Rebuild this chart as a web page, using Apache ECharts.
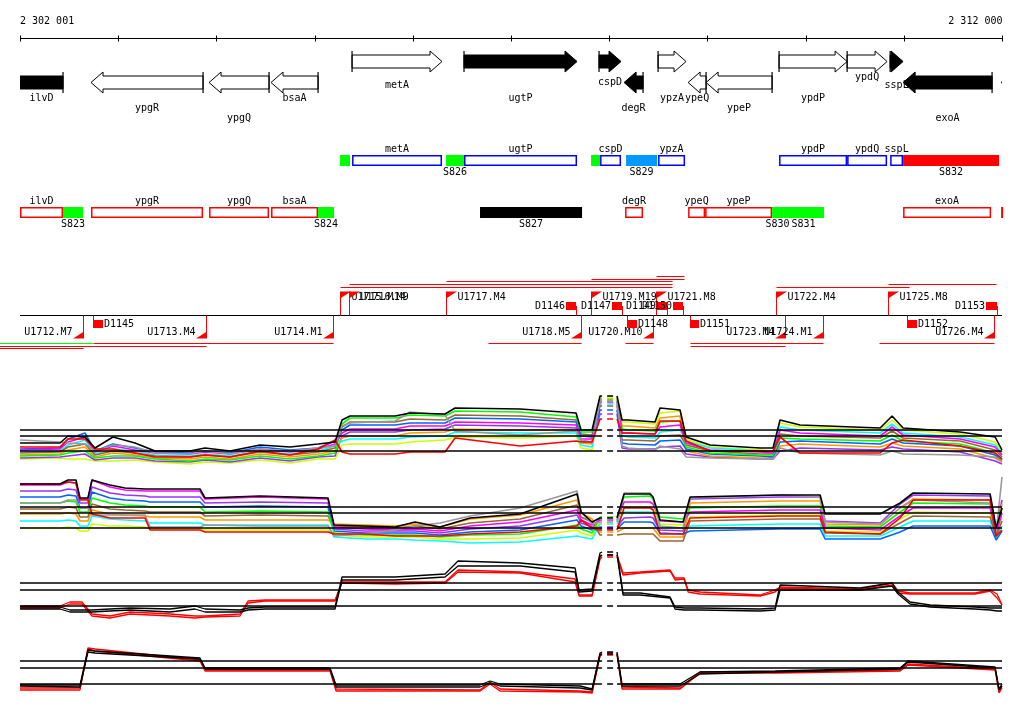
<!DOCTYPE html>
<html><head><meta charset="utf-8"><title>Genome browser</title>
<script src="https://cdn.jsdelivr.net/npm/echarts@6/dist/echarts.min.js"></script>
<style>html,body{margin:0;padding:0;background:#fff;}#chart{width:1024px;height:714px;}</style>
</head><body><div id="chart"></div>
<script>
// ---------------- DATA ----------------
const X_MIN = 2302001, X_MAX = 2312000;
const rulerTicks = [2302001,2303001,2304001,2305001,2306001,2307001,2308001,2309001,2310001,2311001,2312000];
const rulerLabels = ['2 302 001','2 312 000'];

// genes
const geneNames  = ['ilvD','ypgR','ypgQ','bsaA','metA','ugtP','cspD','degR','ypzA','ypeQ','ypeP','ypdP','ypdQ','sspL','exoA',''];
const geneStart  = [2300600,2302724,2303926,2304557,2305382,2306522,2307897,2308152,2308498,2308804,2308987,2309730,2310423,2310861,2310993,2311991];
const geneEnd    = [2302439,2303865,2304537,2305036,2306298,2307673,2308121,2308345,2308783,2308987,2309659,2310423,2310830,2310993,2311899,2313200];
const geneStrand = ['-','-','-','-','+','+','+','-','+','-','-','+','+','+','-','-'];
const geneEssential = [1,0,0,0,0,1,1,1,0,0,0,0,0,1,1,0];
const geneLabelLane = [3,4,5,3,2,3,1,4,3,3,4,3,0,2,5,0];

// segments, + strand row
const segPlusName  = ['','metA','S826','ugtP','','cspD','S829','ypzA','ypdP','ypdQ','sspL','S832'];
const segPlusStart = [2305260,2305382,2306339,2306522,2307816,2307907,2308172,2308498,2309730,2310423,2310861,2310993];
const segPlusEnd   = [2305361,2306298,2306522,2307673,2307907,2308121,2308488,2308773,2310423,2310830,2310993,2311970];
const segPlusClass = ['up','gene','up','gene','up','gene','shift','gene','gene','gene','gene','down'];
// segments, - strand row
const segMinusName  = ['ilvD','S823','ypgR','ypgQ','bsaA','S824','S827','degR','ypeQ','ypeP','S830','S831','exoA',''];
const segMinusStart = [2300600,2302439,2302724,2303926,2304557,2305036,2306685,2308162,2308804,2308977,2309659,2309771,2310993,2311991];
const segMinusEnd   = [2302439,2302643,2303865,2304537,2305036,2305199,2307724,2308345,2308977,2309659,2309771,2310188,2311889,2313200];
const segMinusClass = ['gene','up','gene','gene','gene','up','flat','gene','gene','gene','up','up','gene','gene'];

// transcription units
const tuName   = ['U1712.M7','U1713.M4','U1714.M1','U1715.M14','U1716.M9','U1717.M4','U1718.M5','U1719.M19','U1720.M10','U1721.M8','U1722.M4','U1723.M4','U1724.M1','U1725.M8','U1726.M4'];
const tuStrand = ['-','-','-','+','+','+','-','+','-','+','+','-','-','+','-'];
const tuStart  = [2301000,2300500,2302744,2305260,2305351,2306339,2306767,2307816,2308162,2308478,2309700,2308824,2308824,2310840,2310749];
const tuEnd    = [2302643,2303895,2305188,2308641,2308641,2308641,2307714,2308763,2308447,2308763,2311054,2309791,2310178,2311940,2311920];
const tuLane   = [2,1,0,0,1,2,0,3,0,4,0,1,0,1,0];
const tuAltStart  = [2300000,2307663,2307816];
const tuAltEnd    = [2302744,2308641,2308641];
const tuAltStrand = ['-','+','+'];
const tuAltLane   = [0,2,1];
// down-shift segments
const dName   = ['D1145','D1146','D1147','D1148','D1149','D1150','D1151','D1152','D1153'];
const dStrand = ['-','+','+','-','+','+','-','-','+'];
const dStart  = [2302744,2307561,2308029,2308182,2308488,2308651,2308824,2311034,2311838];
const dEnd    = [2302846,2307663,2308131,2308284,2308590,2308753,2308916,2311135,2311950];

// reference lines
const refX  = [2302001,2307928,2307948,2307979,2308040,2308060,2308080,2312000];
const refOn = [1,1,0,1,1,0,1,1];

// ---- panel 1 ----
const p1Pos = [2302001,2302408,2302490,2302663,2302765,2302948,2303172,2303376,2303732,2303885,2304140,2304445,2304751,2305036,2305209,2305280,2305361,2305820,2305972,2306329,2306431,2307093,2307663,2307714,2307826,2307907,2307928,2307948,2307979,2308040,2308060,2308080,2308131,2308192,2308467,2308518,2308722,2308783,2309027,2309537,2309669,2309740,2309944,2310759,2310881,2310993,2311573,2311930,2312000];
const p1Refs = [0,15,21];
const p1Black = [8,8,15,14,3,14,8,0,0,3,0,6,4,7,9,31,35,35,38,37,43,42,38,21,21,55,55,null,55,55,null,55,31,31,29,43,41,14,6,3,3,31,26,23,35,23,19,14,1];
const p1Gray  = [11,9,8,7,0,6,4,-2,-3,0,-3,2,0,3,5,25,28,30,39,36,20,16,20,12,8,50,50,null,50,50,null,50,5,3,1,5,2,-6,-7,-8,-8,3,-2,-4,0,-3,-4,-6,-10];
const p1Red   = [4,4,12,12,2,2,-2,-6,-6,-4,-6,0,-4,2,11,-1,-3,-3,-1,-1,13,5,10,9,9,32,32,null,32,32,null,32,18,18,17,30,30,10,0,0,0,14,-2,-2,8,11,5,-2,-8];
const p1Magenta = [1,2,9,14,-1,5,1,-2,-3,-1,-3,2,-1,2,7, 18,22,22,25,25,29,28,26,12,12, 49,49,null,49,49,null,49,18,18,17,24,26, 8,1,-1,-2,21,18,15,24,16,12,4,-4];
const p1Lime    = [-5,-4,-2,0,-7,-5,-5,-8,-10,-8,-9,-5,-8,-5,-2, 27,33,33,36,35,40,39,34,19,19, 51,51,null,51,51,null,51,22,21,20,29,30, 4,-2,-4,-4,13,12,10,16,10,7,-2,-8];
const p1Cyan    = [-1,0,6,11,-3,2,0,-4,-5,-3,-5,0,-3,0,5, 10,12,12,14,15,19,18,18,6,4, 47,47,null,47,47,null,47,15,14,13,19,21, 10,3,0,-1,24,21,18,27,18,14,6,-3];
const p1Blue    = [2,3,12,18,0,7,3,-1,-2,0,-2,4,1,3,10, 21,26,26,28,28,33,32,29,15,14, 41,41,null,41,41,null,41,8,7,6,10,11, 2,-3,-5,-6,9,10,7,12,8,5,-4,-9];
const p1Orange  = [-4,-3,1,4,-6,-2,-4,-7,-8,-6,-8,-3,-6,-3,0, 13,15,15,18,19,22,21,21,8,7, 52,52,null,52,52,null,52,25,25,23,33,35, 0,-5,-7,-7,5,7,4,8,5,2,-7,-11];
const p1Yellow  = [-8,-7,-8,-8,-10,-10,-9,-11,-13,-11,-12,-9,-12,-8,-8, 6,7,7,9,11,14,13,15,3,1, 54,54,null,54,54,null,54,29,29,27,38,40, 12,4,1,0,28,24,21,31,21,17,9,-1];
const p1Brown   = [-2,-1,4,7,-4,0,-2,-5,-6,-4,-6,-1,-4,-1,3, 24,29,29,32,31,36,35,31,17,16, 45,45,null,45,45,null,45,11,11,10,15,16, 6,0,-3,-3,17,15,13,20,13,10,1,-6];
const p1Purple  = [-7,-6,-5,-3,-9,-7,-7,-10,-11,-9,-11,-7,-10,-6,-5, 15,19,19,21,22,26,25,23,10,9, 37,37,null,37,37,null,37,3,2,2,4,5, -3,-6,-8,-8,0,3,1,4,2,-1,-10,-13];

// ---- panel 2 ----
const p2Pos = [2302001,2302408,2302490,2302571,2302612,2302693,2302734,2302917,2303070,2303274,2303325,2303834,2303885,2304445,2305137,2305199,2305514,2305820,2306023,2306278,2306583,2307093,2307673,2307714,2307826,2307907,2307928,2307948,2307979,2308040,2308060,2308080,2308152,2308416,2308447,2308518,2308753,2308824,2309740,2310148,2310199,2310759,2310962,2311095,2311879,2311940,2312000];
const p2Refs = [0,15,21];
const p2Black = [44,44,48,48,30,30,48,43,40,39,39,39,30,32,30,3,2,1,6,1,10,14,34,16,6,10,10,null,10,10,null,10,34,34,31,8,6,31,33,33,14,14,25,35,34,0,20];
const p2Gray  = [25,25,28,28,20,20,13,13,13,13,1,1,3,2,2,-8,-6,-2,2,5,12,20,37,16,4,6,6,null,6,6,null,6,35,35,30,2,0,30,33,31,6,4,20,28,25,-5,51];
const p2Red   = [44,44,46,45,28,28,14,10,10,10,-2,-2,-4,-4,-4,-6,-6,-8,-8,-8,-6,-4,2,8,0,-2,-2,null,-2,-2,null,-2,20,20,18,-6,-6,10,12,12,-4,-6,10,28,28,-8,-2];
const p2Magenta = [43,43,46,45,29,29,48,41,38,37,37,37,29,31,29, 1,-1,-2,-1,-3,2,6,18,8,3, 8,8,null,8,8,null,8,26,26,24,7,6, 16,18,18,0,-2,12,20,20,-6,15];
const p2Lime    = [25,25,27,26,16,16,30,25,23,22,21,21,16,17,16, -5,-7,-7,-7,-9,-7,-6,3,-1,-5, 11,11,null,11,11,null,11,31,32,29,11,9, 20,22,22,2,1,16,25,24,-5,20];
const p2Cyan    = [7,7,8,7,2,2,12,9,8,7,5,5,3,3,3, -9,-11,-11,-12,-13,-15,-14,-8,-9,-11, 4,4,null,4,4,null,4,16,16,15,1,0, 2,4,4,-8,-8,1,7,7,-10,2];
const p2Blue    = [31,31,33,32,20,20,36,30,28,27,26,26,21,22,21, -3,-5,-5,-5,-7,-4,-2,8,2,-2, -1,-1,null,-1,-1,null,-1,6,6,5,-5,-6, -3,-1,-1,-11,-11,-4,2,2,-12,-3];
const p2Orange  = [14,14,15,14,7,7,18,14,13,12,11,11,8,8,8, 4,3,2,4,1,9,13,28,15,9, -4,-4,null,-4,-4,null,-4,0,0,0,-9,-9, 25,27,27,4,3,20,29,28,-4,24];
const p2Yellow  = [0,0,1,0,-3,-3,4,2,2,1,-1,-1,-2,-2,-2, -7,-9,-9,-9,-11,-11,-10,-2,-5,-8, 6,6,null,6,6,null,6,21,21,19,4,3, 11,13,13,-3,-4,9,16,15,-8,11];
const p2Brown   = [19,19,21,20,11,11,24,19,18,17,16,16,12,13,12, 2,1,0,2,-1,5,9,23,11,6, -7,-7,null,-7,-7,null,-7,-6,-6,-6,-13,-13, 7,9,9,-5,-6,5,12,11,-9,7];
const p2Purple  = [37,37,39,38,25,25,41,35,33,32,31,31,25,26,25, -1,-3,-3,-3,-5,-1,2,13,5,1, 1,1,null,1,1,null,1,10,11,10,-2,-3, 29,31,31,7,5,24,33,32,-2,28];

// ---- panel 3 ----
const p3Pos = [2302001,2302408,2302510,2302632,2302734,2302917,2303121,2303528,2303783,2303885,2304241,2304323,2304496,2305209,2305280,2305820,2306329,2306461,2307093,2307653,2307694,2307826,2307907,2307928,2307948,2307979,2308040,2308060,2308080,2308141,2308315,2308620,2308671,2308763,2308804,2308925,2309537,2309689,2309740,2310555,2310881,2310942,2311064,2311268,2311726,2311879,2311950,2312000];
const p3Refs = [0,16,23];
const p3BlackA = [-1,-1,-4,-4,-4,-3,-2,-3,0,-3,-4,-2,-1,-1,29,29,32,45,43,38,16,17,53,54,null,54,54,null,54,13,13,9,-1,-2,-2,-2,-3,-2,21,18,23,14,4,1,-1,-2,-2,-2];
const p3BlackB = [-3,-3,-6,-6,-6,-5,-4,-6,-3,-6,-6,-4,-3,-3,26,26,29,40,40,34,14,15,50,51,null,51,51,null,51,11,11,8,-3,-4,-4,-4,-5,-4,16,16,20,12,2,-1,-3,-4,-5,-5];
const p3RedA   = [0,0,4,4,-8,-10,-6,-8,-10,-10,-8,5,6,6,24,24,24,36,34,27,11,11,49,51,null,51,51,null,51,33,34,36,28,28,16,14,11,16,19,17,23,15,13,13,13,16,12,1];
const p3RedB   = [-2,-2,2,2,-10,-12,-8,-10,-12,-11,-10,3,5,5,23,22,23,34,33,24,10,10,47,49,null,49,49,null,49,31,33,35,26,27,14,12,10,14,18,16,21,13,12,12,12,15,8,1];

// ---- panel 4 ----
const p4Pos = [2302001,2302612,2302693,2302765,2303834,2303885,2305158,2305219,2306685,2306787,2306889,2307704,2307826,2307907,2307928,2307948,2307979,2308040,2308060,2308080,2308131,2308722,2308925,2309689,2310962,2311044,2311930,2311970,2312000];
const p4Refs = [0,16,23];
const p4BlackA = [-1,-1,34,33,26,16,16,-1,-1,3,0,-2,-5,31,32,null,32,32,null,32,0,0,12,13,16,23,17,-5,0];
const p4BlackB = [-2,-3,32,31,25,15,15,-3,-3,1,-2,-4,-6,29,30,null,30,30,null,30,-2,-2,10,12,15,22,16,-6,-2];
const p4RedA   = [-4,-4,36,35,24,14,14,-5,-6,2,-5,-7,-8,30,31,null,31,31,null,31,-3,-4,12,12,14,20,15,-8,-2];
const p4RedB   = [-6,-6,35,33,23,13,13,-7,-7,0,-7,-8,-9,28,29,null,29,29,null,29,-5,-5,11,11,13,19,14,-9,-4];

// ---------------- RENDERING ----------------
const FONT = '10px "DejaVu Sans Mono", "Liberation Mono", monospace';
const CLASS_COLOR = {up:'#00ff00', shift:'#0099ff', down:'#ff0000', flat:'#000000'};
const chart = echarts.init(document.getElementById('chart'), null, {renderer:'canvas'});

function xc(api, v){ return api.coord([v, 0])[0]; }
function txt(text, x, y, align, color){
  return {type:'text', style:{text:text, x:x, y:y, align:align||'center', verticalAlign:'middle', font:FONT, fill:color||'#000'}};
}

function renderRuler(params, api){
  const i = params.dataIndex;
  const x = Math.round(xc(api, rulerTicks[i])) + 0.5;
  const ch = [{type:'line', shape:{x1:x, y1:35.5, x2:x, y2:41.5}, style:{stroke:'#000', lineWidth:1}}];
  if (i === 0){
    const a = xc(api, X_MIN), b = xc(api, X_MAX);
    ch.push({type:'line', shape:{x1:a, y1:38.5, x2:b, y2:38.5}, style:{stroke:'#000', lineWidth:1}});
    ch.push(txt(rulerLabels[0], a, 21, 'left'));
  }
  if (i === rulerTicks.length - 1) ch.push(txt(rulerLabels[1], x, 21, 'right'));
  return {type:'group', children:ch};
}

const LABEL_LANE_Y = [77, 82, 85.5, 98.5, 108, 118];
function renderGene(params, api){
  const i = params.dataIndex;
  const x0 = xc(api, geneStart[i]), x1 = xc(api, geneEnd[i]);
  const plus = geneStrand[i] === '+';
  const yc = plus ? 61.5 : 82.5, bh = 6.5, hh = 10.5, head = 12;
  let pts, barX;
  if (plus){ const xh = Math.max(x0, x1 - head); pts = [[x0,yc-bh],[xh,yc-bh],[xh,yc-hh],[x1,yc],[xh,yc+hh],[xh,yc+bh],[x0,yc+bh]]; barX = x0; }
  else { const xh = Math.min(x1, x0 + head); pts = [[x1,yc-bh],[xh,yc-bh],[xh,yc-hh],[x0,yc],[xh,yc+hh],[xh,yc+bh],[x1,yc+bh]]; barX = x1; }
  const filled = geneEssential[i] === 1;
  const ch = [
    {type:'polygon', shape:{points:pts}, style:{fill: filled ? '#000' : '#fff', stroke:'#000', lineWidth:1}},
    {type:'line', shape:{x1:barX, y1:yc-hh, x2:barX, y2:yc+hh}, style:{stroke:'#000', lineWidth:1.2}}
  ];
  if (geneNames[i]){
    const a = Math.max(x0, xc(api, X_MIN)), b = Math.min(x1, xc(api, X_MAX));
    ch.push(txt(geneNames[i], (a+b)/2, LABEL_LANE_Y[geneLabelLane[i]]));
  }
  return {type:'group', children:ch};
}

function makeSegRenderer(names, starts, ends, classes, yTop, geneColor){
  return function(params, api){
    const i = params.dataIndex;
    const lo = xc(api, X_MIN), hi = xc(api, X_MAX);
    const x0 = Math.max(lo, xc(api, starts[i])), x1 = Math.min(hi, xc(api, ends[i]));
    const ch = [];
    const cx = (x0 + x1) / 2;
    if (classes[i] === 'gene'){
      ch.push({type:'rect', shape:{x:x0+0.75, y:yTop+0.75, width:Math.max(0.5, x1-x0-1.5), height:9.5}, style:{fill:'#fff', stroke:geneColor, lineWidth:1.5}});
      if (names[i]) ch.push(txt(names[i], cx, yTop - 6));
    } else {
      ch.push({type:'rect', shape:{x:x0, y:yTop, width:x1-x0, height:11}, style:{fill:CLASS_COLOR[classes[i]]}});
      if (names[i]) ch.push(txt(names[i], cx, yTop + 17.5));
    }
    return {type:'group', children:ch};
  };
}

const LANE_UP = [287.5, 284.5, 281.5, 279.5, 276.5];
const LANE_DOWN = [343.5, 346.5, 348.5];
const AXIS_Y = 315.5;
function renderTU(params, api){
  const i = params.dataIndex;
  const xs = Math.round(xc(api, tuStart[i])) + 0.5, xe = Math.round(xc(api, tuEnd[i])) + 0.5;
  const ch = [];
  if (i === 0){
    ch.push({type:'line', shape:{x1:xc(api, X_MIN), y1:AXIS_Y, x2:xc(api, X_MAX), y2:AXIS_Y}, style:{stroke:'#000', lineWidth:1}});
  }
  if (tuStrand[i] === '+'){
    const y = LANE_UP[tuLane[i]];
    ch.push({type:'line', shape:{x1:xs, y1:y, x2:xe, y2:y}, style:{stroke:'#ff0000', lineWidth:1}});
    ch.push({type:'line', shape:{x1:xs, y1:292, x2:xs, y2:AXIS_Y}, style:{stroke:'#ff0000', lineWidth:1}});
    ch.push({type:'polygon', shape:{points:[[xs-0.5,291.5],[xs+10.5,291.5],[xs-0.5,298.5]]}, style:{fill:'#ff0000'}});
    ch.push(txt(tuName[i], xs + 11, 297.5, 'left'));
  } else {
    const y = LANE_DOWN[tuLane[i]];
    ch.push({type:'line', shape:{x1:xs, y1:y, x2:xe, y2:y}, style:{stroke:'#ff0000', lineWidth:1}});
    ch.push({type:'line', shape:{x1:xe, y1:AXIS_Y, x2:xe, y2:338}, style:{stroke:'#ff0000', lineWidth:1}});
    ch.push({type:'polygon', shape:{points:[[xe+0.5,331.5],[xe+0.5,338.5],[xe-10.5,338.5]]}, style:{fill:'#ff0000'}});
    ch.push(txt(tuName[i], xe - 11, 332.5, 'right'));
  }
  return {type:'group', children:ch};
}
function renderTUAlt(params, api){
  const i = params.dataIndex;
  const xs = xc(api, tuAltStart[i]), xe = xc(api, tuAltEnd[i]);
  const y = tuAltStrand[i] === '+' ? LANE_UP[tuAltLane[i]] : LANE_DOWN[tuAltLane[i]];
  return {type:'line', shape:{x1:xs, y1:y, x2:xe, y2:y}, style:{stroke:'#00ff00', lineWidth:1}};
}
function renderD(params, api){
  const i = params.dataIndex;
  const x0 = Math.round(xc(api, dStart[i])), x1 = Math.round(xc(api, dEnd[i]));
  const ch = [];
  if (dStrand[i] === '+'){
    ch.push({type:'rect', shape:{x:x0, y:302, width:x1-x0, height:8}, style:{fill:'#ff0000'}});
    ch.push({type:'line', shape:{x1:x1+0.5, y1:306, x2:x1+0.5, y2:AXIS_Y}, style:{stroke:'#ff0000', lineWidth:1}});
    ch.push(txt(dName[i], x0 - 1, 306.5, 'right'));
  } else {
    ch.push({type:'rect', shape:{x:x0, y:320, width:x1-x0, height:8}, style:{fill:'#ff0000'}});
    ch.push({type:'line', shape:{x1:x0+0.5, y1:AXIS_Y, x2:x0+0.5, y2:324}, style:{stroke:'#ff0000', lineWidth:1}});
    ch.push(txt(dName[i], x1 + 1, 324.5, 'left'));
  }
  return {type:'group', children:ch};
}

// grids
const grids = [{left:20, right:22, top:0, height:714}];
const xAxes = [{gridIndex:0, type:'value', min:X_MIN, max:X_MAX, show:false}];
const yAxes = [{gridIndex:0, type:'value', min:0, max:714, show:false}];
const panelBase = [451, 528, 606, 684];
panelBase.forEach((b, k) => {
  grids.push({left:20, right:22, top:b - 60, height:80});
  xAxes.push({gridIndex:k+1, type:'value', min:X_MIN, max:X_MAX, show:false});
  yAxes.push({gridIndex:k+1, type:'value', min:-20, max:60, show:false});
});

const series = [];
function custom(data, fn, clip){
  series.push({type:'custom', xAxisIndex:0, yAxisIndex:0, clip:!!clip, silent:true, z:5,
    data:data.map((v,i)=>[v, i]), renderItem:fn});
}
custom(rulerTicks, renderRuler, false);
custom(geneStart, renderGene, true);
custom(segPlusStart, makeSegRenderer(segPlusName, segPlusStart, segPlusEnd, segPlusClass, 155, '#0000ff'), false);
custom(segMinusStart, makeSegRenderer(segMinusName, segMinusStart, segMinusEnd, segMinusClass, 207, '#ff0000'), false);
custom(tuAltStart, renderTUAlt, false);
custom(tuStart, renderTU, false);
custom(dStart, renderD, false);

function lineSeries(gi, pos, vals, color, width, z){
  series.push({type:'line', xAxisIndex:gi, yAxisIndex:gi, silent:true, symbol:'none', showSymbol:false,
    connectNulls:false, z:z||2, lineStyle:{color:color, width:width||1}, data:pos.map((x,i)=>[x, vals[i]])});
}
const panels = [
  {pos:p1Pos, refs:p1Refs, lines:[[p1Yellow,'#ccff00'],[p1Purple,'#9933ff'],[p1Orange,'#ff9900'],[p1Cyan,'#00ffff'],[p1Brown,'#996633'],[p1Blue,'#0066ff'],[p1Lime,'#00ff00'],[p1Magenta,'#ff00ff'],[p1Gray,'#999999'],[p1Red,'#ff0000'],[p1Black,'#000000']]},
  {pos:p2Pos, refs:p2Refs, lines:[[p2Yellow,'#ccff00'],[p2Purple,'#9933ff'],[p2Orange,'#ff9900'],[p2Cyan,'#00ffff'],[p2Brown,'#996633'],[p2Blue,'#0066ff'],[p2Lime,'#00ff00'],[p2Magenta,'#ff00ff'],[p2Gray,'#999999'],[p2Red,'#ff0000'],[p2Black,'#000000']]},
  {pos:p3Pos, refs:p3Refs, lines:[[p3RedA,'#ff0000'],[p3RedB,'#ff0000'],[p3BlackA,'#000000'],[p3BlackB,'#000000']]},
  {pos:p4Pos, refs:p4Refs, lines:[[p4RedA,'#ff0000'],[p4RedB,'#ff0000'],[p4BlackA,'#000000'],[p4BlackB,'#000000']]}
];
panels.forEach((p, k) => {
  const w = k < 2 ? 1.6 : 1.3;
  p.lines.forEach(l => lineSeries(k+1, p.pos, l[0], l[1], w, 2));
  p.refs.forEach(level => {
    series.push({type:'line', xAxisIndex:k+1, yAxisIndex:k+1, silent:true, symbol:'none', z:4,
      lineStyle:{color:'#000', width:1.5}, data:refX.map((x,i)=>[x, refOn[i] ? level : null])});
  });
});

chart.setOption({animation:false, backgroundColor:'#ffffff', grid:grids, xAxis:xAxes, yAxis:yAxes, series:series});
</script></body></html>
